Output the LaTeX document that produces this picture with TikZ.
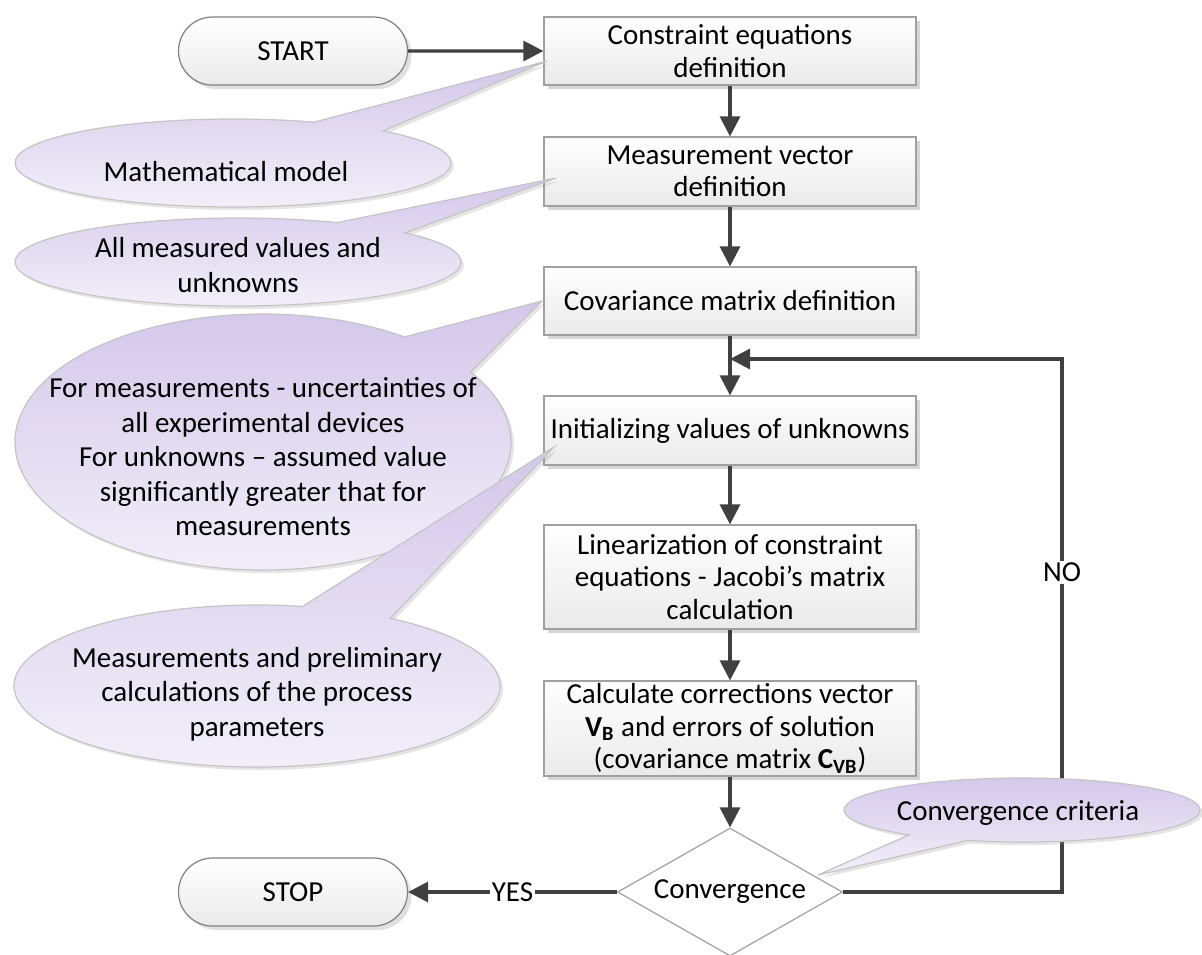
\documentclass[tikz,border=0pt]{standalone}
\usepackage{fontspec}
\setmainfont{Carlito}
\usetikzlibrary{shapes.geometric,shapes.misc,arrows.meta,shadows,calc}

\definecolor{edge}{HTML}{404040}
\definecolor{boxline}{HTML}{A0A0A0}
\definecolor{boxbot}{HTML}{EAEAEA}
\definecolor{pillline}{HTML}{808080}
\definecolor{lavtop}{HTML}{D4C7EA}
\definecolor{lavbot}{HTML}{F3F0F9}
\definecolor{bubbleline}{HTML}{C4C4C4}

\begin{document}
\begin{tikzpicture}[x=0.5pt,y=-0.5pt,
  font=\fontsize{14.5}{16.25}\selectfont,
  stepbox/.style={rectangle, draw=boxline, line width=0.6pt,
    top color=white, bottom color=boxbot, minimum width=186pt,
    align=center, inner sep=0pt,
    drop shadow={shadow xshift=2pt, shadow yshift=-2pt, fill=black!16, opacity=1}},
  pill/.style={rounded rectangle, draw=pillline, line width=0.6pt,
    top color=white, bottom color=boxbot, minimum width=114.5pt,
    minimum height=34pt, inner sep=0pt,
    drop shadow={shadow xshift=2pt, shadow yshift=-2pt, fill=black!12, opacity=1}},
  decision/.style={diamond, aspect=1.76, draw=boxline, line width=0.6pt,
    fill=white, minimum width=112.5pt, minimum height=64pt, inner sep=0pt},
  flow/.style={draw=edge, line width=1.6pt, -{Triangle[length=10pt,width=10pt]}},
  lbl/.style={fill=white, inner sep=1pt},
  bubble/.style={draw=bubbleline, line width=0.6pt, top color=lavtop, bottom color=lavbot,
    drop shadow={shadow xshift=1.5pt, shadow yshift=-1.5pt, fill=black!40, opacity=0.25}},
  bubbletext/.style={align=center, inner sep=0pt, font=\fontsize{14.5}{17.25}\selectfont}
]
\useasboundingbox (0,0) rectangle (1202,954);

% terminals, process steps and the decision
\node[pill] (start) at (293,51) {START};
\node[stepbox, minimum height=34pt] (b1) at (730,51) {Constraint equations\\definition};
\node[stepbox, minimum height=34.5pt] (b2) at (730,171.5) {Measurement vector\\definition};
\node[stepbox, minimum height=34pt] (b3) at (730,301) {Covariance matrix definition};
\node[stepbox, minimum height=34.5pt] (b4) at (730,430.5) {Initializing values of unknowns};
\node[stepbox, minimum height=52pt] (b5) at (730,577) {Linearization of constraint\\equations - Jacobi’s matrix\\calculation};
\node[stepbox, minimum height=47.5pt] (b6) at (730,728.5) {Calculate corrections vector\\\textbf{V}\textsubscript{\textbf{B}} and errors of solution\\(covariance matrix \textbf{C}\textsubscript{\textbf{VB}})};
\node[decision] (conv) at (730,892) {Convergence};
\node[pill] (stop) at (293,892) {STOP};

% main flow
\draw[flow] (start) -- (b1);
\draw[flow] (b1) -- (b2);
\draw[flow] (b2) -- (b3);
\draw[flow] (b3) -- (b4);
\draw[flow] (b4) -- (b5);
\draw[flow] (b5) -- (b6);
\draw[flow] (b6) -- (conv);
\draw[flow] (conv.west) -- node[lbl] {YES} (stop.east);

% iteration loop back above the initialization step
\coordinate (loopcorner) at (1062,359);
\coordinate (join) at (730,359);
\draw[flow] (conv.east) -| node[lbl, pos=0.8] {NO} (loopcorner) -- (join);

% annotation bubbles: elliptic body with a pointed tail
\path[bubble] (233,163) ++(-46.6:218 and 44)
  arc[start angle=-46.6, end angle=291.8, x radius=218, y radius=44] -- (547,61) -- cycle;
\node[bubbletext] (n1) at (226,172) {Mathematical model};

\path[bubble] (238,262) ++(-41.5:223 and 44)
  arc[start angle=-41.5, end angle=296.4, x radius=223, y radius=44] -- (556,178) -- cycle;
\node[bubbletext] (n2) at (238,265) {All measured values and\\unknowns};

\path[bubble] (263,442) ++(-33.1:248 and 128)
  arc[start angle=-33.1, end angle=304.8, x radius=248, y radius=128] -- (542,301) -- cycle;
\node[bubbletext] (n3) at (263,457) {For measurements - uncertainties of\\all experimental devices\\For unknowns – assumed value\\significantly greater that for\\measurements};

\path[bubble] (257,686) ++(-56.7:243 and 81)
  arc[start angle=-56.7, end angle=280.8, x radius=243, y radius=81] -- (554,447) -- cycle;
\node[bubbletext] (n4) at (257,694) {Measurements and preliminary\\calculations of the process\\parameters};

\path[bubble] (1022,810) ++(129.3:178 and 32)
  arc[start angle=129.3, end angle=467.8, x radius=178, y radius=32] -- (818,875) -- cycle;
\node[bubbletext] (n5) at (1018,813) {Convergence criteria};
\end{tikzpicture}
\end{document}
